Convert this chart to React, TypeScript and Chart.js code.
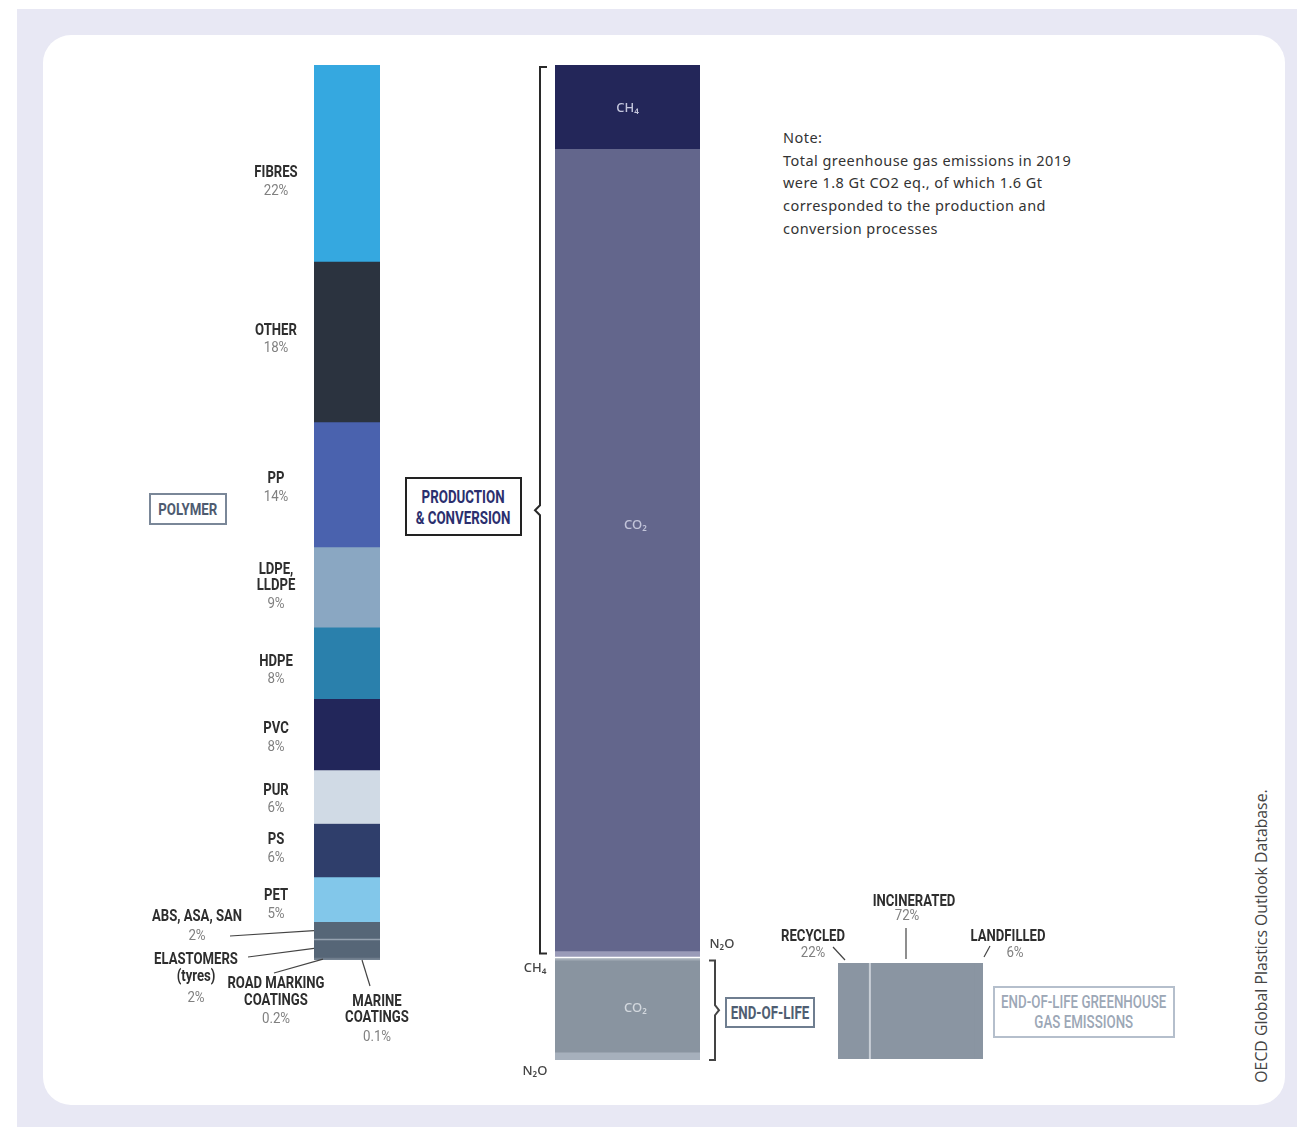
import React, { useEffect, useRef } from "react";
import { Chart, registerables } from "chart.js";

Chart.register(...registerables);

// ---------------- DATA ----------------
const polymerNames = [
  "FIBRES", "OTHER", "PP", "LDPE, LLDPE", "HDPE", "PVC", "PUR", "PS", "PET",
  "ABS, ASA, SAN", "ELASTOMERS (tyres)", "ROAD MARKING COATINGS", "MARINE COATINGS",
];
const polymerLabelLines = [
  ["FIBRES"], ["OTHER"], ["PP"], ["LDPE,", "LLDPE"], ["HDPE"], ["PVC"], ["PUR"], ["PS"], ["PET"],
  ["ABS, ASA, SAN"], ["ELASTOMERS", "(tyres)"], ["ROAD MARKING", "COATINGS"], ["MARINE", "COATINGS"],
];
const polymerShares = [22, 18, 14, 9, 8, 8, 6, 6, 5, 2, 2, 0.2, 0.1];
const polymerColors = [
  "#35a8e0", "#2b333f", "#4a62ae", "#8aa7c2", "#2a80ac", "#22265a", "#d0dae5", "#2f3e6b", "#82c7ea",
  "#566677", "#566677", "#6f7d8c", "#7d8a98",
];

const gasNames = ["CH₄", "CO₂", "N₂O"];
const productionGt = [0.15, 1.44, 0.012];
const endOfLifeGt = [0.005, 0.165, 0.014];
const productionColors = ["#232659", "#63668c", "#9a9bb8"];
const endOfLifeColors = ["#a3acb6", "#8994a0", "#a6b0bc"];

const eolRoutes = ["RECYCLED", "INCINERATED", "LANDFILLED"];
const eolShares = [22, 72, 6];
const eolColor = "#8a95a2";

const noteLines = [
  "Note:",
  "Total greenhouse gas emissions in 2019",
  "were 1.8 Gt CO2 eq., of which 1.6 Gt",
  "corresponded to the production and",
  "conversion processes",
];
const sourceText = "OECD Global Plastics Outlook Database.";

// ---------------- STYLE ----------------
const COND = 'Roboto, "Noto Sans", sans-serif';
const SANS = '"Noto Sans", "DejaVu Sans", sans-serif';
const SX = 0.82;

type Box = { left: number; top: number; width: number; height: number };
const POLY_CANVAS: Box = { left: 120, top: 55, width: 330, height: 1000 };
const MID_CANVAS: Box = { left: 500, top: 55, width: 260, height: 1035 };
const EOL_CANVAS: Box = { left: 750, top: 880, width: 320, height: 190 };

// label vertical nudges for the large polymer segments (px)
const polymerLabelNudge = [19, -2, 4, 0, 8, 4, 3, -1, 6];

function sum(a: number[]) {
  return a.reduce((s, v) => s + v, 0);
}
function cumulative(a: number[]) {
  const starts: number[] = [];
  let c = 0;
  a.forEach((v) => {
    starts.push(c);
    c += v;
  });
  return starts;
}

function drawText(ctx: CanvasRenderingContext2D, text: string, x: number, y: number, font: string, color: string, sx = 1) {
  ctx.save();
  ctx.translate(x, y);
  ctx.scale(sx, 1);
  ctx.font = font;
  ctx.fillStyle = color;
  ctx.textAlign = "center";
  ctx.textBaseline = "middle";
  ctx.fillText(text, 0, 0);
  ctx.restore();
}
function line(ctx: CanvasRenderingContext2D, x1: number, y1: number, x2: number, y2: number, color: string, w = 1.2) {
  ctx.strokeStyle = color;
  ctx.lineWidth = w;
  ctx.beginPath();
  ctx.moveTo(x1, y1);
  ctx.lineTo(x2, y2);
  ctx.stroke();
}

const NAME_FONT = `bold 16px ${COND}`;
const PCT_FONT = `14px ${COND}`;
const NAME_COLOR = "#2e2e2e";
const PCT_COLOR = "#808080";
const nameText = (ctx: CanvasRenderingContext2D, t: string, x: number, y: number) => drawText(ctx, t, x, y, NAME_FONT, NAME_COLOR, SX);
const pctText = (ctx: CanvasRenderingContext2D, t: string, x: number, y: number) => drawText(ctx, t, x, y, PCT_FONT, PCT_COLOR, 0.95);

// ---------------- PLUGINS ----------------
const polymerPlugin = {
  id: "polymerLabels",
  afterDatasetsDraw(chart: any) {
    const ctx: CanvasRenderingContext2D = chart.ctx;
    const y = chart.scales.y;
    const area = chart.chartArea;
    const starts = cumulative(polymerShares);
    const o = POLY_CANVAS;
    ctx.save();
    const sy = y.getPixelForValue(starts[10]);
    line(ctx, area.left, sy, area.right, sy, "#96a2b0", 1.5);

    const cx = area.left - 38;
    for (let i = 0; i < 9; i++) {
      const mid = y.getPixelForValue(starts[i] + polymerShares[i] / 2) + polymerLabelNudge[i];
      const names = polymerLabelLines[i];
      const h = (names.length - 1) * 16 + 18;
      let ly = mid - h / 2;
      names.forEach((n) => {
        nameText(ctx, n, cx, ly);
        ly += 16;
      });
      pctText(ctx, polymerShares[i] + "%", cx, ly + 2);
    }
    const smallLayout = [
      { cx: 197, ys: [917], py: 936, from: [230, 936], to: (s: number, v: number) => [area.left, y.getPixelForValue(s + v / 2)] },
      { cx: 196, ys: [960, 977], py: 998, from: [248, 957], to: (s: number, v: number) => [area.left, y.getPixelForValue(s + v / 2)] },
      { cx: 276, ys: [984, 1001], py: 1019, from: [274, 973], to: (s: number, v: number) => [area.left + 9, y.getPixelForValue(s + v)] },
      { cx: 377, ys: [1002, 1018], py: 1037, from: [370, 986], to: (s: number, v: number) => [area.left + 48, y.getPixelForValue(s + v)] },
    ];
    smallLayout.forEach((L, k) => {
      const i = 9 + k;
      polymerLabelLines[i].forEach((n, j) => nameText(ctx, n, L.cx - o.left, L.ys[j] - o.top));
      pctText(ctx, polymerShares[i] + "%", L.cx - o.left, L.py - o.top);
      const [tx, ty] = L.to(starts[i], polymerShares[i]);
      line(ctx, L.from[0] - o.left, L.from[1] - o.top, tx, ty, "#444", 1.2);
    });
    ctx.restore();
  },
};

const midPlugin = {
  id: "midLabels",
  afterDatasetsDraw(chart: any) {
    const ctx: CanvasRenderingContext2D = chart.ctx;
    const y = chart.scales.y;
    const area = chart.chartArea;
    const prodTotal = sum(productionGt);
    const all = [...productionGt, ...endOfLifeGt];
    const starts = cumulative(all);
    const total = sum(all);
    const cx = (area.left + area.right) / 2;
    ctx.save();
    const gy = y.getPixelForValue(prodTotal);
    line(ctx, area.left, gy, area.right, gy, "#ffffff", 1.5);

    const f = `500 13px ${SANS}`;
    drawText(ctx, gasNames[0], cx, y.getPixelForValue(starts[0] + all[0] / 2) + 2, f, "#c3c5dc");
    drawText(ctx, gasNames[1], cx + 8, y.getPixelForValue(starts[1] + all[1] * 0.47), f, "#c3c5da");
    drawText(ctx, gasNames[2], area.right + 22, y.getPixelForValue(prodTotal) - 13, f, "#444");
    drawText(ctx, gasNames[0], area.left - 20, y.getPixelForValue(starts[3] + all[3] / 2) + 9, f, "#444");
    drawText(ctx, gasNames[1], cx + 8, y.getPixelForValue(starts[4] + all[4] / 2) + 2, f, "#d3d8de");
    drawText(ctx, gasNames[2], area.left - 20, y.getPixelForValue(total) + 11, f, "#444");

    const t = y.getPixelForValue(0) + 2;
    const b = y.getPixelForValue(prodTotal) - 4;
    const m = (t + b) / 2;
    const bx = area.left - 15;
    ctx.strokeStyle = "#2a2a2a";
    ctx.lineWidth = 2;
    ctx.beginPath();
    ctx.moveTo(bx + 7, t);
    ctx.lineTo(bx, t);
    ctx.lineTo(bx, m - 5);
    ctx.lineTo(bx - 5, m);
    ctx.lineTo(bx, m + 5);
    ctx.lineTo(bx, b);
    ctx.lineTo(bx + 7, b);
    ctx.stroke();

    const t2 = y.getPixelForValue(prodTotal) + 3;
    const b2 = y.getPixelForValue(total);
    const m2 = (t2 + b2) / 2;
    const ex = area.right + 15;
    ctx.strokeStyle = "#444";
    ctx.beginPath();
    ctx.moveTo(ex - 6, t2);
    ctx.lineTo(ex, t2);
    ctx.lineTo(ex, m2 - 5);
    ctx.lineTo(ex + 4, m2);
    ctx.lineTo(ex, m2 + 5);
    ctx.lineTo(ex, b2);
    ctx.lineTo(ex - 6, b2);
    ctx.stroke();
    ctx.restore();
  },
};

const eolPlugin = {
  id: "eolLabels",
  afterDatasetsDraw(chart: any) {
    const ctx: CanvasRenderingContext2D = chart.ctx;
    const x = chart.scales.x;
    const area = chart.chartArea;
    const o = EOL_CANVAS;
    ctx.save();
    const dx = x.getPixelForValue(eolShares[0]);
    line(ctx, dx, area.top, dx, area.bottom, "#c9cfd6", 2);
    const layout = [
      { nx: 813, ny: 937, px: 813, py: 953, l: [833, 947, 845, 960] },
      { nx: 914, ny: 902, px: 907, py: 916, l: [906, 928, 906, 959] },
      { nx: 1008, ny: 937, px: 1015, py: 953, l: [990, 946, 984, 957] },
    ];
    layout.forEach((L, i) => {
      nameText(ctx, eolRoutes[i], L.nx - o.left, L.ny - o.top);
      pctText(ctx, eolShares[i] + "%", L.px - o.left, L.py - o.top);
      line(ctx, L.l[0] - o.left, L.l[1] - o.top, L.l[2] - o.left, L.l[3] - o.top, "#444", 1.2);
    });
    ctx.restore();
  },
};

// ---------------- CONFIGS ----------------
const baseOptions = {
  animation: false,
  responsive: false,
  plugins: { legend: { display: false }, tooltip: { enabled: false } },
};

function polymerConfig(): any {
  return {
    type: "bar",
    data: {
      labels: ["Polymer"],
      datasets: polymerShares.map((v, i) => ({
        label: polymerNames[i],
        data: [v],
        backgroundColor: polymerColors[i],
        borderWidth: 0,
        barPercentage: 1,
        categoryPercentage: 1,
      })),
    },
    options: {
      ...baseOptions,
      layout: { padding: { left: 194, right: 70, top: 10, bottom: 95 } },
      scales: {
        x: { display: false, stacked: true },
        y: { display: false, stacked: true, reverse: true, min: 0, max: sum(polymerShares) },
      },
    },
    plugins: [polymerPlugin],
  };
}

function midConfig(): any {
  const vals = [...productionGt, ...endOfLifeGt];
  const cols = [...productionColors, ...endOfLifeColors];
  const names = [...gasNames.map((g) => "Production " + g), ...gasNames.map((g) => "End-of-life " + g)];
  return {
    type: "bar",
    data: {
      labels: ["Emissions"],
      datasets: vals.map((v, i) => ({
        label: names[i],
        data: [v],
        backgroundColor: cols[i],
        borderWidth: 0,
        barPercentage: 1,
        categoryPercentage: 1,
      })),
    },
    options: {
      ...baseOptions,
      layout: { padding: { left: 55, right: 60, top: 10, bottom: 30 } },
      scales: {
        x: { display: false, stacked: true },
        y: { display: false, stacked: true, reverse: true, min: 0, max: sum(vals) },
      },
    },
    plugins: [midPlugin],
  };
}

function eolConfig(): any {
  return {
    type: "bar",
    data: {
      labels: ["End-of-life"],
      datasets: eolShares.map((v, i) => ({
        label: eolRoutes[i],
        data: [v],
        backgroundColor: eolColor,
        borderWidth: 0,
        barPercentage: 1,
        categoryPercentage: 1,
      })),
    },
    options: {
      ...baseOptions,
      indexAxis: "y",
      layout: { padding: { left: 88, right: 87, top: 83, bottom: 11 } },
      scales: {
        x: { display: false, stacked: true, min: 0, max: sum(eolShares) },
        y: { display: false, stacked: true },
      },
    },
    plugins: [eolPlugin],
  };
}

// ---------------- COMPONENTS ----------------
function ChartCanvas({ box, make }: { box: Box; make: () => any }) {
  const ref = useRef<HTMLCanvasElement>(null);
  useEffect(() => {
    const c = new Chart(ref.current as HTMLCanvasElement, make());
    return () => c.destroy();
  }, []);
  return (
    <canvas
      ref={ref}
      width={box.width}
      height={box.height}
      style={{ position: "absolute", left: box.left, top: box.top, width: box.width, height: box.height }}
    />
  );
}

function LabelBox(props: { left: number; top: number; width: number; height: number; border: string; color: string; size: number; lines: string[]; weight?: number; lh: number; sx: number }) {
  return (
    <div
      style={{
        position: "absolute",
        left: props.left,
        top: props.top,
        width: props.width,
        height: props.height,
        boxSizing: "border-box",
        border: `2px solid ${props.border}`,
        display: "flex",
        flexDirection: "column",
        alignItems: "center",
        justifyContent: "center",
        fontFamily: COND,
        fontWeight: props.weight || 700,
        fontSize: props.size,
        lineHeight: `${props.lh}px`,
        color: props.color,
        background: "#fff",
      }}
    >
      {props.lines.map((l, i) => (
        <span key={i} style={{ display: "inline-block", whiteSpace: "nowrap", transform: `scaleX(${props.sx})` }}>
          {l}
        </span>
      ))}
    </div>
  );
}

export default function App() {
  return (
    <div style={{ position: "absolute", left: 0, top: 0, width: 1297, height: 1127, overflow: "hidden", background: "#fff" }}>
      <div style={{ position: "absolute", left: 17, top: 9, width: 1280, height: 1118, background: "#e8e8f4" }} />
      <div style={{ position: "absolute", left: 43, top: 35, width: 1242, height: 1070, background: "#ffffff", borderRadius: 28 }} />

      <ChartCanvas box={POLY_CANVAS} make={polymerConfig} />
      <ChartCanvas box={MID_CANVAS} make={midConfig} />
      <ChartCanvas box={EOL_CANVAS} make={eolConfig} />

      <LabelBox left={149} top={493} width={78} height={32} border="#7a8798" color="#4e5b70" size={17} lh={20} sx={0.78} lines={["POLYMER"]} />
      <LabelBox left={405} top={477} width={117} height={59} border="#222" color="#2b2f6e" size={18} lh={21} sx={0.74} lines={["PRODUCTION", "& CONVERSION"]} />
      <LabelBox left={725} top={997} width={90} height={31} border="#6f7e90" color="#4f5e72" size={18} lh={20} sx={0.74} lines={["END-OF-LIFE"]} />
      <LabelBox left={993} top={986} width={182} height={52} border="#b5bfcc" color="#9ca7b6" size={18} lh={20} sx={0.74} weight={500} lines={["END-OF-LIFE GREENHOUSE", "GAS EMISSIONS"]} />

      <div
        style={{
          position: "absolute",
          left: 783,
          top: 126,
          fontFamily: SANS,
          fontSize: 14.5,
          letterSpacing: 0.45,
          lineHeight: "22.7px",
          color: "#333",
          whiteSpace: "nowrap",
        }}
      >
        {noteLines.map((l, i) => (
          <div key={i}>{l}</div>
        ))}
      </div>

      <div
        style={{
          position: "absolute",
          left: 1261 - 170,
          top: 936 - 11,
          width: 340,
          height: 22,
          lineHeight: "22px",
          textAlign: "center",
          transform: "rotate(-90deg)",
          transformOrigin: "50% 50%",
          fontFamily: '"Open Sans", sans-serif',
          fontSize: 15.8,
          color: "#444",
          whiteSpace: "nowrap",
        }}
      >
        {sourceText}
      </div>
    </div>
  );
}
